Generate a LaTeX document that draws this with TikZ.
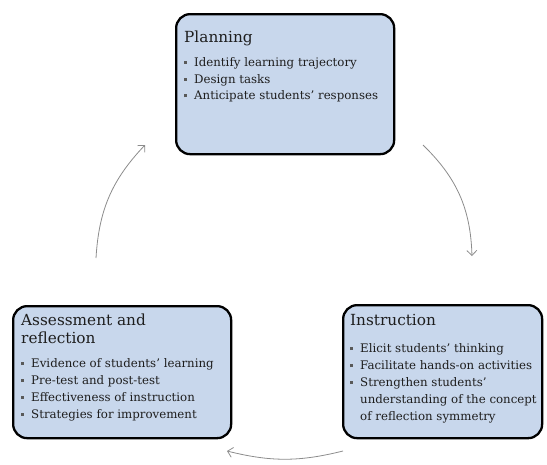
\documentclass[tikz,border=0pt]{standalone}
\usepackage{fontspec}
\setmainfont{DejaVu Serif}
\usetikzlibrary{arrows.meta}
\definecolor{boxfill}{RGB}{200,215,236}
\definecolor{txtcol}{RGB}{30,30,30}
\definecolor{arrcol}{RGB}{140,140,140}
\newcommand{\titlef}{\fontsize{15.3}{18}\selectfont}
\newcommand{\bulf}{\fontsize{11.8}{16.8}\selectfont}
\newcommand{\bitem}[1]{\par\noindent\hangindent=10pt\hangafter=1\makebox[10pt][l]{\textcolor{black!65}{\rule[2.6pt]{3pt}{3pt}}}#1}
\tikzset{
  card/.style={draw=black, line width=2.3pt, rounded corners=14pt, fill=boxfill, inner sep=0pt, anchor=north west},
  cardtext/.style={anchor=base west, inner sep=0pt, text=txtcol},
  cycarrow/.style={draw=arrcol, line width=0.8pt, -{Straight Barb[length=5pt,width=10pt]}}
}
\begin{document}
\begin{tikzpicture}[x=1pt,y=-1pt]
\useasboundingbox (0,0) rectangle (547,464);
% boxes
\node[card, minimum width=218pt, minimum height=140pt] (plan) at (175,13) {};
\node[card, minimum width=199pt, minimum height=133pt] (instr) at (342,304) {};
\node[card, minimum width=218pt, minimum height=132pt] (assess) at (12,305) {};
% texts
\node[cardtext] (plantext) at (184,42) {\parbox[t]{205pt}{\raggedright\titlef Planning\par\vspace{7.5pt}\bulf
\bitem{Identify learning trajectory}
\bitem{Design tasks}
\bitem{Anticipate students’ responses}\par}};
\node[cardtext] (instrtext) at (350,325) {\parbox[t]{195pt}{\raggedright\titlef Instruction\par\vspace{11pt}\bulf
\bitem{Elicit students’ thinking}
\bitem{Facilitate hands-on activities}
\bitem{Strengthen students’\newline understanding of the concept\newline of reflection symmetry}\par}};
\node[cardtext] (assesstext) at (21,325) {\parbox[t]{205pt}{\raggedright\titlef Assessment and\\ reflection\par\vspace{8pt}\bulf
\bitem{Evidence of students’ learning}
\bitem{Pre-test and post-test}
\bitem{Effectiveness of instruction}
\bitem{Strategies for improvement}\par}};
% arrow end points
\coordinate (a1s) at (423,145);
\coordinate (a1e) at (472,256);
\coordinate (a2s) at (343,451);
\coordinate (a2e) at (227,451);
\coordinate (a3s) at (96,258);
\coordinate (a3e) at (145,145);
\draw[cycarrow] (a1s) to[bend left=22] (a1e);
\draw[cycarrow] (a2s) to[bend left=14] (a2e);
\draw[cycarrow] (a3s) to[bend left=20] (a3e);
\end{tikzpicture}
\end{document}
